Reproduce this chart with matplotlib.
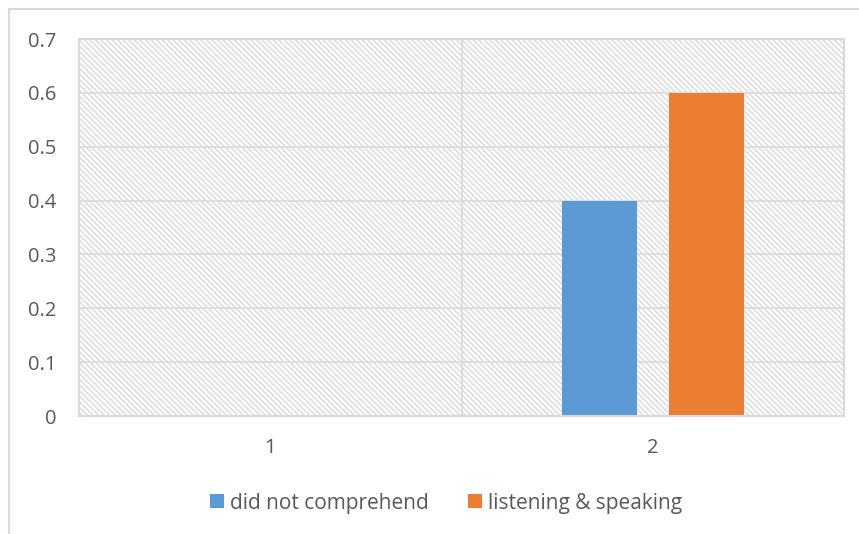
import matplotlib
matplotlib.use("Agg")
import matplotlib.pyplot as plt
from matplotlib.patches import Rectangle
import numpy as np

categories = ["1", "2"]
series_names = ["did not comprehend", "listening & speaking"]
did_not_comprehend = [0.0, 0.4]
listening_speaking = [0.0, 0.6]
y_ticks = [0, 0.1, 0.2, 0.3, 0.4, 0.5, 0.6, 0.7]
y_tick_labels = ["0", "0.1", "0.2", "0.3", "0.4", "0.5", "0.6", "0.7"]

colors = ["#5B9BD5", "#ED7D31"]
grid_c = "#D9D9D9"
text_c = "#595959"

plt.rcParams['font.family'] = ['Open Sans', 'DejaVu Sans']
plt.rcParams['hatch.linewidth'] = 1.0
plt.rcParams['hatch.color'] = grid_c

W, H = 859, 534
fig = plt.figure(figsize=(W / 100, H / 100), dpi=100)
# outer chart border (extends beyond the image on right/bottom)
fig.patches.append(Rectangle((9 / W, -0.1), 1.2, (H - 9) / H + 0.1,
                             transform=fig.transFigure, fill=False,
                             edgecolor=grid_c, linewidth=1.5))

left, right, top, bottom = 79, 844, 39, 416
ax = fig.add_axes([left / W, 1 - bottom / H, (right - left) / W, (bottom - top) / H])

x = np.arange(len(categories))
ax.set_xlim(-0.5, len(categories) - 0.5)
ax.set_ylim(0, 0.7)

# hatched plot area background
ax.add_patch(Rectangle((0, 0), 1, 1, transform=ax.transAxes, facecolor="white",
                       edgecolor=grid_c, linewidth=0, hatch="\\\\\\\\\\\\", zorder=0))

# gridlines
for t in y_ticks[1:-1]:
    ax.axhline(t, color=grid_c, linewidth=1.2, zorder=1)
for b in np.arange(len(categories) - 1) + 0.5:
    ax.axvline(b, color=grid_c, linewidth=1.2, zorder=1)

bw = 0.196
off = 0.14
ax.bar(x - off, did_not_comprehend, width=bw, color=colors[0], zorder=2,
       label=series_names[0])
ax.bar(x + off, listening_speaking, width=bw, color=colors[1], zorder=2,
       label=series_names[1])

for s in ax.spines.values():
    s.set_color(grid_c)
    s.set_linewidth(1.5)

fs = 14.5
ax.set_yticks(y_ticks)
ax.set_yticklabels(y_tick_labels)
ax.set_xticks(x)
ax.set_xticklabels(categories)
ax.tick_params(axis='both', length=0, labelsize=fs, labelcolor=text_c)
ax.tick_params(axis='y', pad=16)
ax.tick_params(axis='x', pad=16)

lfs = 15
leg = fig.legend(loc="center", bbox_to_anchor=(446 / W, 1 - 503 / H), ncol=2,
                 frameon=False, fontsize=lfs, handlelength=0.68, handleheight=0.68,
                 handletextpad=0.28, columnspacing=1.85, labelcolor=text_c,
                 borderpad=0)

fig.savefig("out.png", dpi=100)
